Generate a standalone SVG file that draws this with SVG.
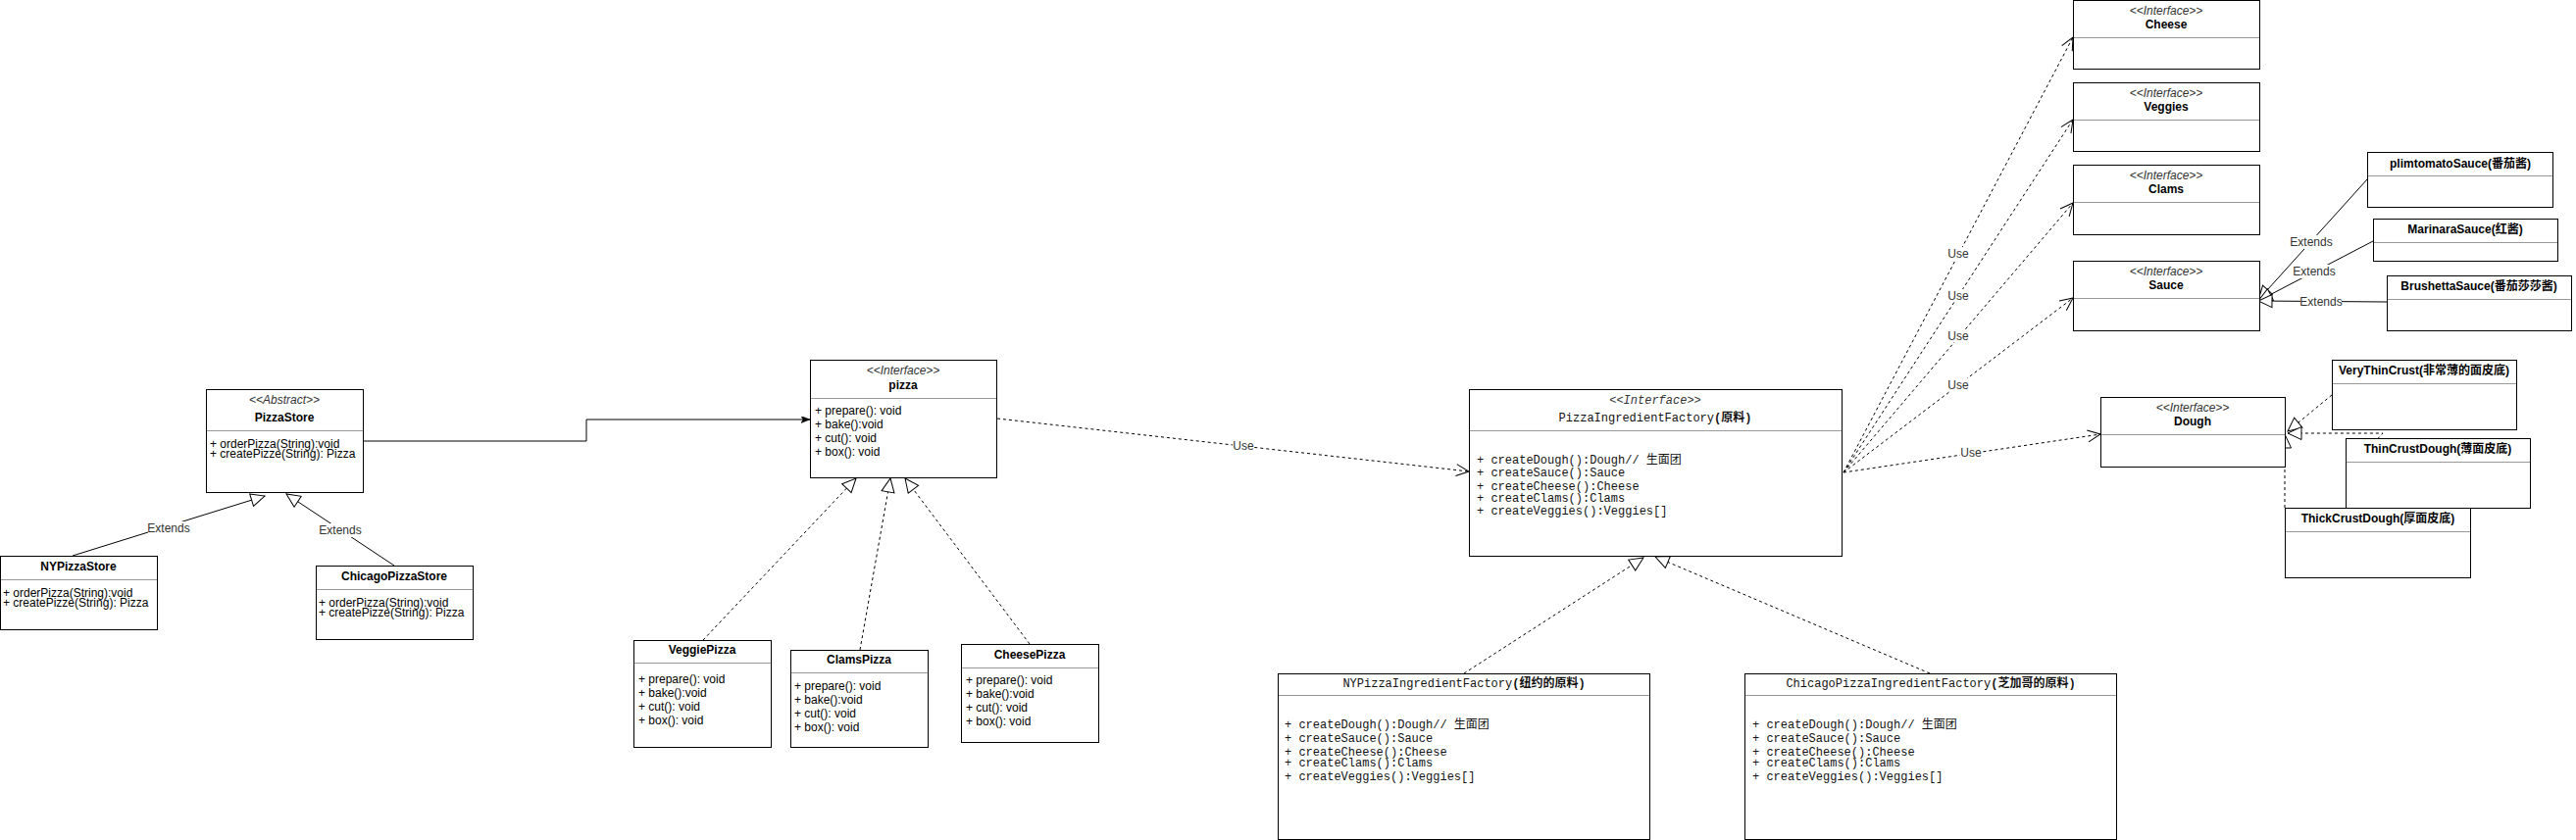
<svg xmlns="http://www.w3.org/2000/svg" width="2627" height="857" viewBox="0 0 2627 857">
<style>
.box{fill:#fff;stroke:#000;stroke-width:1}
.dv{stroke:#999;stroke-width:1}
.t{font-family:"Liberation Sans","Noto Sans CJK SC",sans-serif;font-size:12px;fill:#000}
.m{font-family:"Liberation Mono","Noto Sans CJK SC",monospace;font-size:12px;fill:#111}
.b{font-weight:bold}
.c{text-anchor:middle}
.i{font-style:italic;fill:#333}
.ln{fill:none;stroke:#000;stroke-width:1}
.ds{stroke-dasharray:3 3}
.lb{fill:#fff}
.lt{font-family:"Liberation Sans",sans-serif;font-size:12px;fill:#333;text-anchor:middle}
</style>
<defs>
<marker id="tri" viewBox="-1 -1 16 15" refX="14" refY="6.5" markerWidth="16" markerHeight="15" markerUnits="userSpaceOnUse" orient="auto"><path d="M0,0 L14,6.5 L0,13 Z" fill="#fff" stroke="#000"/></marker>
<marker id="open" viewBox="-1 -1 15 14" refX="13" refY="6" markerWidth="15" markerHeight="14" markerUnits="userSpaceOnUse" orient="auto"><path d="M0,0 L13,6 L0,12" fill="none" stroke="#000"/></marker>
<marker id="fill" viewBox="0 0 10 8" refX="9" refY="3.5" markerWidth="10" markerHeight="8" markerUnits="userSpaceOnUse" orient="auto"><path d="M0,0 L9,3.5 L0,7 L2,3.5 Z" fill="#000" stroke="#000" stroke-width="0.5"/></marker>
</defs>
<rect x="0" y="0" width="2627" height="857" fill="#fff"/>

<g id="connectors">
<polyline class="ln" points="370,450 598,450 598,428 826,428" marker-end="url(#fill)"/>
<line class="ln" x1="74" y1="567" x2="270" y2="506" marker-end="url(#tri)"/>
<line class="ln" x1="402" y1="577" x2="292" y2="504" marker-end="url(#tri)"/>
<line class="ln ds" x1="717" y1="653" x2="873" y2="488" marker-end="url(#tri)"/>
<line class="ln ds" x1="877" y1="663" x2="908" y2="488" marker-end="url(#tri)"/>
<line class="ln ds" x1="1050" y1="657" x2="923" y2="488" marker-end="url(#tri)"/>
<line class="ln ds" x1="1017" y1="427" x2="1498" y2="481" marker-end="url(#open)"/>
<line class="ln ds" x1="1880" y1="482" x2="2114" y2="38" marker-end="url(#open)"/>
<line class="ln ds" x1="1880" y1="482" x2="2114" y2="122" marker-end="url(#open)"/>
<line class="ln ds" x1="1880" y1="482" x2="2114" y2="207" marker-end="url(#open)"/>
<line class="ln ds" x1="1880" y1="482" x2="2114" y2="304" marker-end="url(#open)"/>
<line class="ln ds" x1="1880" y1="482" x2="2142" y2="443" marker-end="url(#open)"/>
<line class="ln ds" x1="1493" y1="687" x2="1676" y2="569" marker-end="url(#tri)"/>
<line class="ln ds" x1="1968" y1="687" x2="1688" y2="568" marker-end="url(#tri)"/>
<line class="ln" x1="2414" y1="183" x2="2303" y2="306" marker-end="url(#tri)"/>
<line class="ln" x1="2420" y1="246" x2="2303" y2="307" marker-end="url(#tri)"/>
<line class="ln" x1="2434" y1="308" x2="2303" y2="307" marker-end="url(#tri)"/>
<line class="ln ds" x1="2378" y1="403" x2="2333" y2="440" marker-end="url(#tri)"/>
<polyline class="ln ds" points="2392,483 2430,442 2333,442" marker-end="url(#tri)"/>
<line class="ln ds" x1="2330" y1="518" x2="2330" y2="443" marker-end="url(#tri)"/>
<g id="labels">
<rect class="lb" x="151" y="532" width="42" height="14"/><text class="lt" x="172" y="543">Extends</text>
<rect class="lb" x="326" y="534" width="42" height="14"/><text class="lt" x="347" y="545">Extends</text>
<rect class="lb" x="1257" y="448" width="22" height="13"/><text class="lt" x="1268" y="459">Use</text>
<rect class="lb" x="1986" y="252" width="22" height="13"/><text class="lt" x="1997" y="263">Use</text>
<rect class="lb" x="1986" y="295" width="22" height="13"/><text class="lt" x="1997" y="306">Use</text>
<rect class="lb" x="1986" y="336" width="22" height="13"/><text class="lt" x="1997" y="347">Use</text>
<rect class="lb" x="1986" y="386" width="22" height="13"/><text class="lt" x="1997" y="397">Use</text>
<rect class="lb" x="1999" y="455" width="22" height="13"/><text class="lt" x="2010" y="466">Use</text>
<rect class="lb" x="2336" y="240" width="42" height="14"/><text class="lt" x="2357" y="251">Extends</text>
<rect class="lb" x="2339" y="270" width="42" height="14"/><text class="lt" x="2360" y="281">Extends</text>
<rect class="lb" x="2346" y="301" width="42" height="14"/><text class="lt" x="2367" y="312">Extends</text>
</g>
</g>

<g id="PizzaStore">
<rect class="box" x="210.5" y="397.5" width="160" height="105"/>
<line class="dv" x1="211" y1="439.5" x2="370" y2="439.5"/>
<text class="t i c" x="290" y="412">&lt;&lt;Abstract&gt;&gt;</text>
<text class="t b c" x="290" y="430">PizzaStore</text>
<text class="t" x="214" y="457">+ orderPizza(String):void</text>
<text class="t" x="214" y="467">+ createPizze(String): Pizza</text>
</g>
<g id="NYPizzaStore">
<rect class="box" x="0.5" y="567.5" width="160" height="75"/>
<line class="dv" x1="1" y1="591.5" x2="160" y2="591.5"/>
<text class="t b c" x="80" y="582">NYPizzaStore</text>
<text class="t" x="3" y="609">+ orderPizza(String):void</text>
<text class="t" x="3" y="619">+ createPizze(String): Pizza</text>
</g>
<g id="ChicagoPizzaStore">
<rect class="box" x="322.5" y="577.5" width="160" height="75"/>
<line class="dv" x1="323" y1="601.5" x2="482" y2="601.5"/>
<text class="t b c" x="402" y="592">ChicagoPizzaStore</text>
<text class="t" x="325" y="619">+ orderPizza(String):void</text>
<text class="t" x="325" y="629">+ createPizze(String): Pizza</text>
</g>

<g id="pizza">
<rect class="box" x="826.5" y="367.5" width="190" height="120"/>
<line class="dv" x1="827" y1="406.5" x2="1016" y2="406.5"/>
<text class="t i c" x="921" y="382">&lt;&lt;Interface&gt;&gt;</text>
<text class="t b c" x="921" y="397">pizza</text>
<text class="t" x="831" y="423">+ prepare(): void</text>
<text class="t" x="831" y="437">+ bake():void</text>
<text class="t" x="831" y="451">+ cut(): void</text>
<text class="t" x="831" y="465">+ box(): void</text>
</g>
<g id="VeggiePizza">
<rect class="box" x="646.5" y="653.5" width="140" height="109"/>
<line class="dv" x1="647" y1="676.5" x2="786" y2="676.5"/>
<text class="t b c" x="716" y="667">VeggiePizza</text>
<text class="t" x="651" y="697">+ prepare(): void</text>
<text class="t" x="651" y="711">+ bake():void</text>
<text class="t" x="651" y="725">+ cut(): void</text>
<text class="t" x="651" y="739">+ box(): void</text>
</g>
<g id="ClamsPizza">
<rect class="box" x="806.5" y="663.5" width="140" height="99"/>
<line class="dv" x1="807" y1="686.5" x2="946" y2="686.5"/>
<text class="t b c" x="876" y="677">ClamsPizza</text>
<text class="t" x="810" y="704">+ prepare(): void</text>
<text class="t" x="810" y="718">+ bake():void</text>
<text class="t" x="810" y="732">+ cut(): void</text>
<text class="t" x="810" y="746">+ box(): void</text>
</g>
<g id="CheesePizza">
<rect class="box" x="980.5" y="657.5" width="140" height="100"/>
<line class="dv" x1="981" y1="681.5" x2="1120" y2="681.5"/>
<text class="t b c" x="1050" y="672">CheesePizza</text>
<text class="t" x="985" y="698">+ prepare(): void</text>
<text class="t" x="985" y="712">+ bake():void</text>
<text class="t" x="985" y="726">+ cut(): void</text>
<text class="t" x="985" y="740">+ box(): void</text>
</g>

<g id="PizzaIngredientFactory">
<rect class="box" x="1498.5" y="397.5" width="380" height="170"/>
<line class="dv" x1="1499" y1="439.5" x2="1878" y2="439.5"/>
<text class="m i c" x="1688" y="412">&lt;&lt;Interface&gt;&gt;</text>
<text class="m c" x="1688" y="430">PizzaIngredientFactory<tspan class="b">(原料)</tspan></text>
<text class="m" x="1506" y="473">+ createDough():Dough// 生面团</text>
<text class="m" x="1506" y="486">+ createSauce():Sauce</text>
<text class="m" x="1506" y="500">+ createCheese():Cheese</text>
<text class="m" x="1506" y="512">+ createClams():Clams</text>
<text class="m" x="1506" y="525">+ createVeggies():Veggies[]</text>
</g>
<g id="NYPizzaIngredientFactory">
<rect class="box" x="1303.5" y="687.5" width="379" height="169"/>
<line class="dv" x1="1304" y1="709.5" x2="1682" y2="709.5"/>
<text class="m c" x="1493" y="701">NYPizzaIngredientFactory<tspan class="b">(纽约的原料)</tspan></text>
<text class="m" x="1310" y="743">+ createDough():Dough// 生面团</text>
<text class="m" x="1310" y="757">+ createSauce():Sauce</text>
<text class="m" x="1310" y="771">+ createCheese():Cheese</text>
<text class="m" x="1310" y="782">+ createClams():Clams</text>
<text class="m" x="1310" y="796">+ createVeggies():Veggies[]</text>
</g>
<g id="ChicagoPizzaIngredientFactory">
<rect class="box" x="1779.5" y="687.5" width="379" height="169"/>
<line class="dv" x1="1780" y1="709.5" x2="2158" y2="709.5"/>
<text class="m c" x="1969" y="701">ChicagoPizzaIngredientFactory<tspan class="b">(芝加哥的原料)</tspan></text>
<text class="m" x="1787" y="743">+ createDough():Dough// 生面团</text>
<text class="m" x="1787" y="757">+ createSauce():Sauce</text>
<text class="m" x="1787" y="771">+ createCheese():Cheese</text>
<text class="m" x="1787" y="782">+ createClams():Clams</text>
<text class="m" x="1787" y="796">+ createVeggies():Veggies[]</text>
</g>

<g id="Cheese">
<rect class="box" x="2114.5" y="0.5" width="190" height="70"/>
<line class="dv" x1="2115" y1="38.5" x2="2304" y2="38.5"/>
<text class="t i c" x="2209" y="15">&lt;&lt;Interface&gt;&gt;</text>
<text class="t b c" x="2209" y="29">Cheese</text>
</g>
<g id="Veggies">
<rect class="box" x="2114.5" y="84.5" width="190" height="70"/>
<line class="dv" x1="2115" y1="122.5" x2="2304" y2="122.5"/>
<text class="t i c" x="2209" y="99">&lt;&lt;Interface&gt;&gt;</text>
<text class="t b c" x="2209" y="113">Veggies</text>
</g>
<g id="Clams">
<rect class="box" x="2114.5" y="168.5" width="190" height="71"/>
<line class="dv" x1="2115" y1="206.5" x2="2304" y2="206.5"/>
<text class="t i c" x="2209" y="183">&lt;&lt;Interface&gt;&gt;</text>
<text class="t b c" x="2209" y="197">Clams</text>
</g>
<g id="Sauce">
<rect class="box" x="2114.5" y="266.5" width="190" height="71"/>
<line class="dv" x1="2115" y1="304.5" x2="2304" y2="304.5"/>
<text class="t i c" x="2209" y="281">&lt;&lt;Interface&gt;&gt;</text>
<text class="t b c" x="2209" y="295">Sauce</text>
</g>
<g id="plimtomatoSauce">
<rect class="box" x="2414.5" y="155.5" width="189" height="56"/>
<line class="dv" x1="2415" y1="179.5" x2="2603" y2="179.5"/>
<text class="t b c" x="2509" y="171">plimtomatoSauce(番茄酱)</text>
</g>
<g id="MarinaraSauce">
<rect class="box" x="2420.5" y="223.5" width="188" height="43"/>
<line class="dv" x1="2421" y1="247.5" x2="2608" y2="247.5"/>
<text class="t b c" x="2514" y="238">MarinaraSauce(红酱)</text>
</g>
<g id="BrushettaSauce">
<rect class="box" x="2434.5" y="281.5" width="188" height="56"/>
<line class="dv" x1="2435" y1="305.5" x2="2622" y2="305.5"/>
<text class="t b c" x="2528" y="296">BrushettaSauce(番茄莎莎酱)</text>
</g>

<g id="Dough">
<rect class="box" x="2142.5" y="405.5" width="188" height="71"/>
<line class="dv" x1="2143" y1="443.5" x2="2330" y2="443.5"/>
<text class="t i c" x="2236" y="420">&lt;&lt;Interface&gt;&gt;</text>
<text class="t b c" x="2236" y="434">Dough</text>
</g>
<g id="VeryThinCrust">
<rect class="box" x="2378.5" y="367.5" width="188" height="71"/>
<line class="dv" x1="2379" y1="391.5" x2="2566" y2="391.5"/>
<text class="t b c" x="2472" y="382">VeryThinCrust(非常薄的面皮底)</text>
</g>
<g id="ThinCrustDough">
<rect class="box" x="2392.5" y="447.5" width="188" height="71"/>
<line class="dv" x1="2393" y1="471.5" x2="2580" y2="471.5"/>
<text class="t b c" x="2486" y="462">ThinCrustDough(薄面皮底)</text>
</g>
<g id="ThickCrustDough">
<rect class="box" x="2330.5" y="518.5" width="189" height="71"/>
<line class="dv" x1="2331" y1="542.5" x2="2519" y2="542.5"/>
<text class="t b c" x="2425" y="533">ThickCrustDough(厚面皮底)</text>
</g>
</svg>
